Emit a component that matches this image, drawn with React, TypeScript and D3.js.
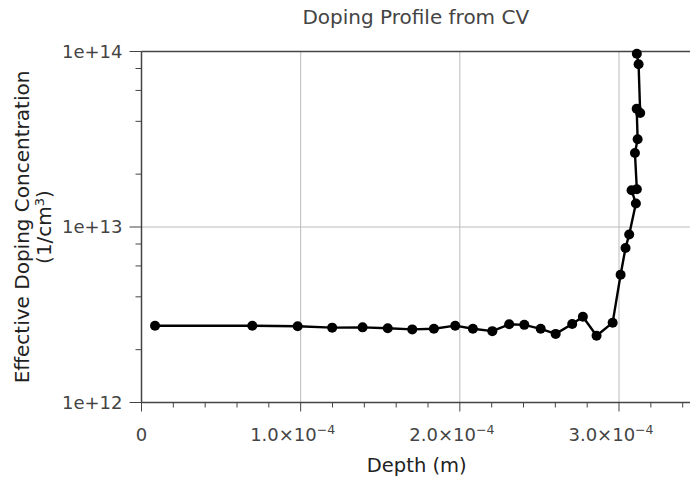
import * as d3 from "d3";

// depth values (m) and effective doping (1/cm^3), in measurement order
const depth = [
  8.5e-6, 6.96e-5, 9.81e-5, 1.198e-4, 1.389e-4, 1.547e-4, 1.701e-4, 1.837e-4,
  1.971e-4, 2.082e-4, 2.204e-4, 2.31e-4, 2.405e-4, 2.508e-4, 2.602e-4, 2.706e-4,
  2.773e-4, 2.859e-4, 2.96e-4, 3.01e-4, 3.041e-4, 3.064e-4, 3.106e-4, 3.079e-4,
  3.112e-4, 3.1e-4, 3.117e-4, 3.111e-4, 3.133e-4, 3.123e-4, 3.112e-4,
];
const doping = [
  2.74e12, 2.74e12, 2.72e12, 2.67e12, 2.68e12, 2.65e12, 2.61e12, 2.63e12,
  2.74e12, 2.63e12, 2.55e12, 2.79e12, 2.77e12, 2.63e12, 2.46e12, 2.8e12,
  3.08e12, 2.4e12, 2.85e12, 5.34e12, 7.6e12, 9.06e12, 1.36e13, 1.62e13,
  1.64e13, 2.64e13, 3.16e13, 4.72e13, 4.46e13, 8.45e13, 9.72e13,
];

const xMajor = [0, 1e-4, 2e-4, 3e-4];
const xMajorLabels = ["0", "1.0×10", "2.0×10", "3.0×10"];
const xMinor = d3.range(0, 3.45e-4, 2e-5);
const yMajor = [1e12, 1e13, 1e14];
const yMajorLabels = ["1e+12", "1e+13", "1e+14"];
const yMinorMult = [2, 4, 6, 8];

const title = "Doping Profile from CV";
const xTitle = "Depth (m)";

export default function App() {
  const W = 690;
  const H = 477;
  const left = 141.5;
  const top = 51.5;
  const bottom = 402.5;

  const x = d3.scaleLinear().domain([0, 3.446e-4]).range([left, W]);
  const y = d3.scaleLog().domain([1e12, 1e14]).range([bottom, top]);

  const pts = depth.map((d, i) => [d, doping[i]] as [number, number]);
  const line = d3
    .line<[number, number]>()
    .x((d) => x(d[0]))
    .y((d) => y(d[1]));

  const yMinor: number[] = [];
  [1e12, 1e13].forEach((dec) => yMinorMult.forEach((m) => yMinor.push(dec * m)));

  const font = "DejaVu Sans, sans-serif";
  const grey = "#444";

  return (
    <svg
      width={W}
      height={H}
      style={{ position: "absolute", left: 0, top: 0, background: "white" }}
      fontFamily={font}
    >
      {/* grid */}
      {xMajor.slice(1).map((v) => (
        <line key={"gx" + v} x1={x(v)} x2={x(v)} y1={top} y2={bottom} stroke="#bbb" strokeWidth={1} />
      ))}
      <line x1={left} x2={W} y1={y(1e13)} y2={y(1e13)} stroke="#bbb" strokeWidth={1} />
      <line x1={left} x2={W} y1={y(1e14)} y2={y(1e14)} stroke={grey} strokeWidth={1.5} />

      {/* data */}
      <path d={line(pts) || ""} fill="none" stroke="black" strokeWidth={2.4} strokeLinejoin="round" />
      {pts.map((p, i) => (
        <circle key={i} cx={x(p[0])} cy={y(p[1])} r={5} fill="black" />
      ))}

      {/* axes */}
      <line x1={left} x2={left} y1={top} y2={bottom} stroke={grey} strokeWidth={1.5} />
      <line x1={left} x2={W} y1={bottom} y2={bottom} stroke={grey} strokeWidth={1.5} />
      {xMinor.map((v, i) => (
        <line key={"xm" + i} x1={x(v)} x2={x(v)} y1={bottom} y2={bottom + (i % 5 === 0 ? 9 : 5)} stroke={grey} strokeWidth={1} />
      ))}
      {yMajor.map((v) => (
        <line key={"yM" + v} x1={left - 12} x2={left} y1={y(v)} y2={y(v)} stroke={grey} strokeWidth={1} />
      ))}
      {yMinor.map((v) => (
        <line key={"ym" + v} x1={left - 6} x2={left} y1={y(v)} y2={y(v)} stroke={grey} strokeWidth={1} />
      ))}

      {/* tick labels */}
      {yMajor.map((v, i) => (
        <text key={"yl" + v} x={left - 19} y={y(v)} dy="0.36em" textAnchor="end" fontSize={18} fill={grey}>
          {yMajorLabels[i]}
        </text>
      ))}
      {xMajor.map((v, i) => (
        <text key={"xl" + v} x={x(v) + (i === 0 ? 0 : -8)} y={441} textAnchor="middle" fontSize={18} fill={grey}>
          {xMajorLabels[i]}
          {i > 0 && (
            <tspan dy={-7} fontSize={12.5}>
              −4
            </tspan>
          )}
        </text>
      ))}

      {/* titles */}
      <text x={(left + W) / 2} y={24} textAnchor="middle" fontSize={20} fill={grey}>
        {title}
      </text>
      <text x={(left + W) / 2 + 1} y={472} textAnchor="middle" fontSize={19.5} fill="#222">
        {xTitle}
      </text>
      <g transform={`translate(0, ${(top + bottom) / 2}) rotate(-90)`} fontSize={20} fill="#222" textAnchor="middle">
        <text x={0} y={29}>Effective Doping Concentration</text>
        <text x={0} y={51}>
          (1/cm
          <tspan dy={-7} fontSize={13}>3</tspan>
          <tspan dy={7}>)</tspan>
        </text>
      </g>
    </svg>
  );
}
